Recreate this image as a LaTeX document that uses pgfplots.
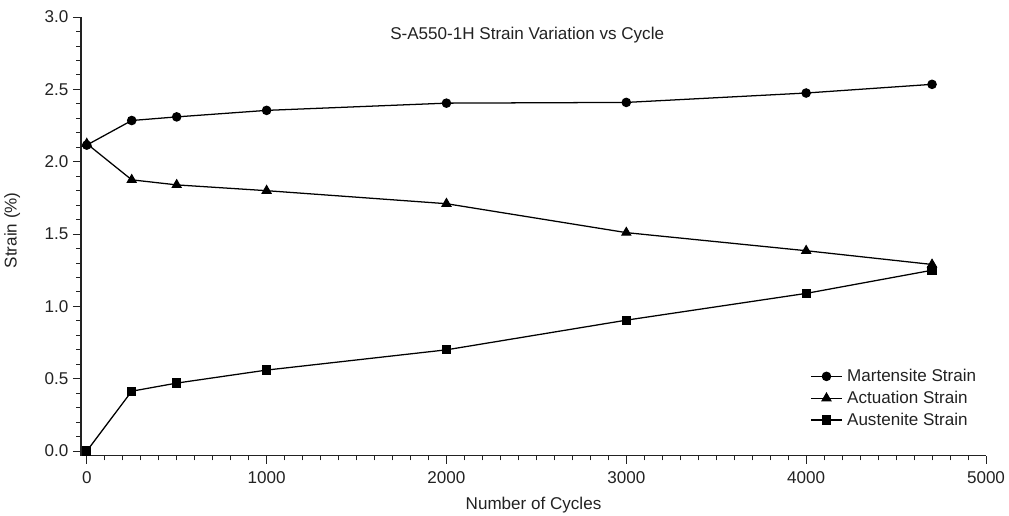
\documentclass[border=0pt]{standalone}
\usepackage{pgfplots}
\pgfplotsset{compat=1.18}
\usepackage{fontspec}
\setmainfont{Liberation Sans}
\definecolor{txt}{HTML}{222222}
\begin{document}
\begin{tikzpicture}[x=1pt,y=1pt]
\useasboundingbox (-60.75pt,-45.2pt) rectangle (696pt,341.8pt);
\begin{axis}[
  scale only axis,
  width=678.75pt, height=329.0pt,
  xmin=-32, xmax=5000, ymin=-0.032, ymax=3.0,
  axis lines*=left,
  axis line style={color=txt, line width=0.8pt},
  tick align=outside,
  xtick={0,1000,2000,3000,4000,5000},
  ytick={0,0.5,1.0,1.5,2.0,2.5,3.0},
  minor x tick num=9, minor y tick num=4,
  major tick length=6pt, minor tick length=3.5pt,
  tick style={color=txt, line width=0.7pt},
  yticklabel style={/pgf/number format/.cd, fixed, fixed zerofill, precision=1},
  /pgf/number format/assume math mode=true,
  /pgf/number format/1000 sep={},
  ticklabel style={font=\fontsize{12.8}{15}\selectfont, color=txt},
  xticklabel style={yshift=-2pt},
  xlabel={Number of Cycles}, ylabel={Strain (\%)},
  label style={font=\fontsize{12.8}{15}\selectfont, color=txt},
  xlabel style={at={(0.5,-0.113)}, anchor=center},
  ylabel style={at={(-0.076,0.514)}, anchor=center},
  title={S-A550-1H Strain Variation vs Cycle},
  every axis title shift=0pt,
  title style={at={(0.493,0.958)}, anchor=center, font=\fontsize{12.8}{15}\selectfont, color=txt},
  legend style={draw=none, fill=none, at={(0.996,0.207)}, anchor=north east,
    font=\fontsize{12.8}{15}\selectfont, text=txt, row sep=1.6pt, inner sep=1pt,
    nodes={inner xsep=3.5pt}},
  legend cell align=left,
  legend image code/.code={
    \draw[#1, mark repeat=2, mark phase=2] plot coordinates {(0pt,0pt) (11.5pt,0pt) (23pt,0pt)};
  },
  every axis plot/.append style={color=black, line width=0.95pt, mark options={solid}},
  clip=false,
]
\addplot[mark=*, mark size=3.1pt] coordinates {
(0,2.115) (250,2.285) (500,2.31) (1000,2.355) (2000,2.405) (3000,2.41) (4000,2.475) (4700,2.535)};
\addlegendentry{Martensite Strain}
\addplot[mark=triangle*, mark size=3.7pt] coordinates {
(0,2.125) (250,1.875) (500,1.84) (1000,1.80) (2000,1.71) (3000,1.51) (4000,1.385) (4700,1.29)};
\addlegendentry{Actuation Strain}
\addplot[mark=square*, mark size=3pt] coordinates {
(0,0) (250,0.414) (500,0.47) (1000,0.56) (2000,0.70) (3000,0.905) (4000,1.09) (4700,1.25)};
\addlegendentry{Austenite Strain}
\end{axis}
\end{tikzpicture}
\end{document}
